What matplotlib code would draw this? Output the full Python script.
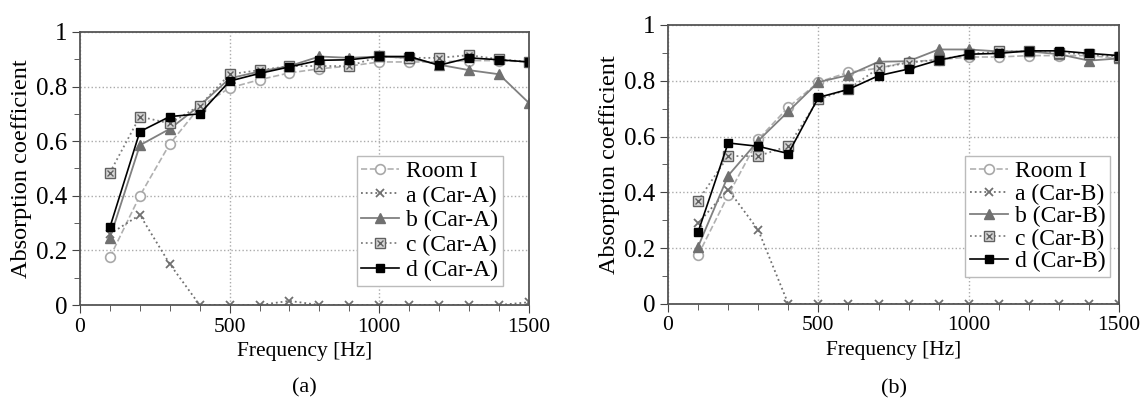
import matplotlib
matplotlib.use("Agg")
import matplotlib.pyplot as plt
from matplotlib.ticker import MultipleLocator

plt.rcParams['font.family'] = ['Liberation Serif', 'DejaVu Serif']

freq = [100, 200, 300, 400, 500, 600, 700, 800, 900, 1000, 1100, 1200, 1300, 1400, 1500]

# panel (a): Car-A
room_a = [0.175, 0.40, 0.59, 0.725, 0.795, 0.825, 0.85, 0.865, 0.875, 0.89, 0.89, 0.89, 0.895, 0.895, 0.89]
a_cara = [0.26, 0.33, 0.15, 0.0, 0.0, 0.0, 0.015, 0.0, 0.0, 0.0, 0.0, 0.0, 0.0, 0.0, 0.01]
b_cara = [0.245, 0.585, 0.645, 0.73, 0.83, 0.855, 0.875, 0.91, 0.905, 0.91, 0.905, 0.88, 0.86, 0.845, 0.74]
c_cara = [0.485, 0.69, 0.665, 0.73, 0.845, 0.86, 0.875, 0.875, 0.875, 0.91, 0.905, 0.905, 0.915, 0.90, 0.89]
d_cara = [0.285, 0.635, 0.69, 0.70, 0.82, 0.848, 0.872, 0.896, 0.898, 0.91, 0.91, 0.878, 0.905, 0.898, 0.89]

# panel (b): Car-B
room_b = [0.175, 0.39, 0.59, 0.705, 0.795, 0.83, 0.845, 0.868, 0.875, 0.885, 0.885, 0.89, 0.89, 0.89, 0.88]
a_carb = [0.29, 0.41, 0.265, 0.0, 0.0, 0.0, 0.0, 0.0, 0.0, 0.0, 0.0, 0.0, 0.0, 0.0, 0.0]
b_carb = [0.205, 0.46, 0.585, 0.69, 0.795, 0.82, 0.868, 0.87, 0.912, 0.912, 0.905, 0.905, 0.895, 0.872, 0.88]
c_carb = [0.37, 0.53, 0.53, 0.566, 0.733, 0.77, 0.845, 0.865, 0.875, 0.895, 0.905, 0.905, 0.90, 0.895, 0.885]
d_carb = [0.258, 0.577, 0.565, 0.539, 0.74, 0.769, 0.818, 0.842, 0.874, 0.895, 0.898, 0.907, 0.907, 0.898, 0.89]

y_ticks = [0, 0.2, 0.4, 0.6, 0.8, 1.0]
y_labels = ['0', '0.2', '0.4', '0.6', '0.8', '1']


def draw(ax, room, a, b, c, d, car, caption, leg_anchor, spacing):
    h_room, = ax.plot(freq, room, ls='--', color='#b0b0b0', lw=1.2, marker='o', ms=7,
                      mfc='white', mec='#a8a8a8', mew=1.2)
    h_a, = ax.plot(freq, a, ls=':', color='#707070', lw=1.3, marker='x', ms=6,
                   mec='#707070', mew=1.3)
    h_b, = ax.plot(freq, b, ls='-', color='#808080', lw=1.3, marker='^', ms=7,
                   mfc='#707070', mec='#707070')
    h_c1, = ax.plot(freq, c, ls=':', color='#808080', lw=1.3, marker='s', ms=6.5,
                    mfc='#d8d8d8', mec='#606060', mew=1.0)
    h_c2, = ax.plot(freq, c, ls='none', marker='x', ms=5, mec='#606060', mew=1.0)
    h_d, = ax.plot(freq, d, ls='-', color='black', lw=1.2, marker='s', ms=6,
                   mfc='black', mec='black')

    ax.set_xlim(0, 1500)
    ax.set_ylim(0, 1)
    ax.set_xticks([0, 500, 1000, 1500])
    ax.xaxis.set_minor_locator(MultipleLocator(100))
    ax.set_yticks(y_ticks)
    ax.set_yticklabels(y_labels)
    ax.yaxis.set_minor_locator(MultipleLocator(0.1))
    ax.tick_params(axis='both', which='both', direction='out', colors='#444444',
                   labelcolor='black')
    ax.tick_params(axis='both', which='major', length=6, pad=3)
    ax.tick_params(axis='both', which='minor', length=4)
    ax.tick_params(axis='x', labelsize=15.5)
    ax.tick_params(axis='y', labelsize=18)
    ax.grid(True, which='major', ls=':', color='#aaaaaa', lw=1.0)
    for s in ax.spines.values():
        s.set_color('#555555')
        s.set_linewidth(1.3)

    ax.set_xlabel('Frequency [Hz]', fontsize=15.5, labelpad=4)
    ax.set_ylabel('Absorption coefficient', fontsize=17.5, labelpad=3)

    leg = ax.legend([h_room, h_a, h_b, (h_c1, h_c2), h_d],
                    ['Room I', 'a (' + car + ')', 'b (' + car + ')',
                     'c (' + car + ')', 'd (' + car + ')'],
                    loc='lower right', bbox_to_anchor=leg_anchor,
                    fontsize=17, handlelength=1.6, handletextpad=0.3,
                    labelspacing=spacing, borderpad=0.2, borderaxespad=0,
                    fancybox=False, framealpha=1, edgecolor='#bbbbbb')
    leg.get_frame().set_linewidth(1.0)
    ax.text(0.5, -0.305, caption, transform=ax.transAxes, ha='center', va='center',
            fontsize=16)


fig = plt.figure(figsize=(11.48, 4.01), dpi=100)
ax1 = fig.add_axes([0.0697, 0.2394, 0.391, 0.681])
ax2 = fig.add_axes([0.5819, 0.2419, 0.3929, 0.696])

draw(ax1, room_a, a_cara, b_cara, c_cara, d_cara, 'Car-A', '(a)', (0.942, 0.07), 0.14)
draw(ax2, room_b, a_carb, b_carb, c_carb, d_carb, 'Car-B', '(b)', (0.98, 0.097), 0.04)

fig.savefig('out.png', dpi=100)
